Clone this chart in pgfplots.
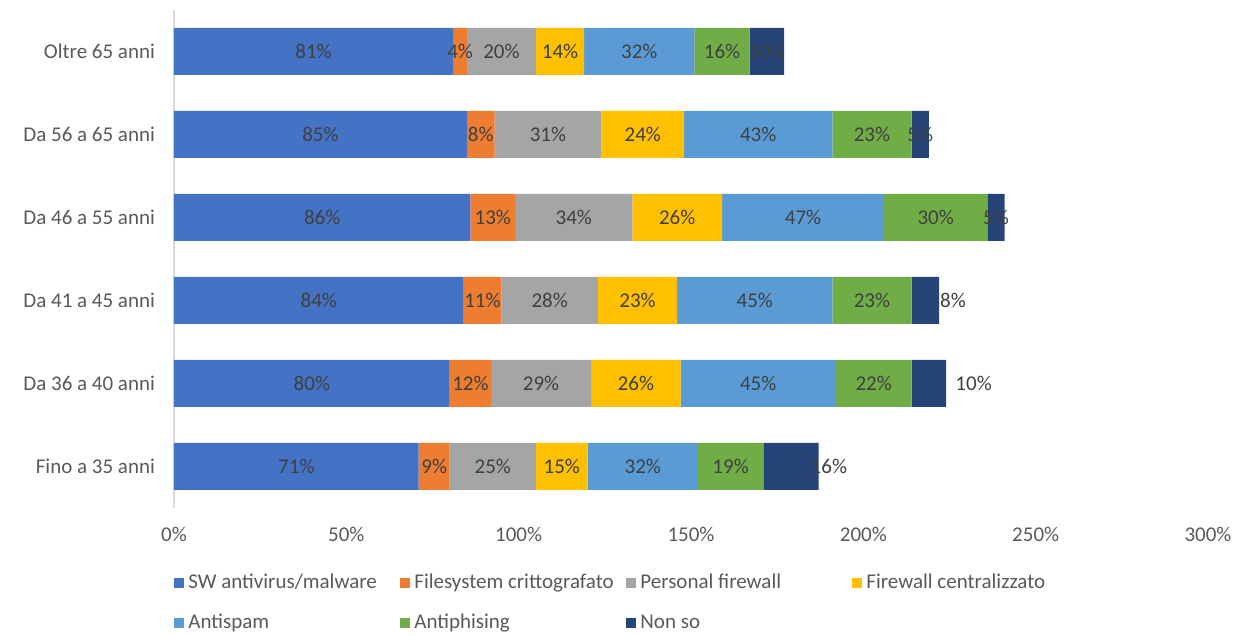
\documentclass[border=0pt]{standalone}
\usepackage{pgfplots}
\pgfplotsset{compat=1.18}
\usepackage{pgfplotstable}
\usepackage{fontspec}
\setmainfont{Carlito}
\definecolor{c1}{HTML}{4472C4}
\definecolor{c2}{HTML}{ED7D31}
\definecolor{c3}{HTML}{A5A5A5}
\definecolor{c4}{HTML}{FFC000}
\definecolor{c5}{HTML}{5B9BD5}
\definecolor{c6}{HTML}{70AD47}
\definecolor{c7}{HTML}{264478}
\definecolor{labc}{HTML}{404040}
\definecolor{tickc}{HTML}{595959}
\pgfplotsset{/pgf/number format/assume math mode=true}
% bar values (percent), rows bottom to top
\pgfplotstableread{
y a b c d e f g
0 71 9 25 15 32 19 16
1 80 12 29 26 45 22 10
2 84 11 28 23 45 23 8
3 86 13 34 26 47 30 5
4 85 8 31 24 43 23 5
5 81 4 20 14 32 16 10
}\data
% data label positions (segment centres) and texts
\pgfplotstableread{
x y lab
35.5 0 71
75.5 0 9
92.5 0 25
112.5 0 15
136 0 32
161.5 0 19
190 0 16
40 1 80
86 1 12
106.5 1 29
134 1 26
169.5 1 45
203 1 22
232 1 10
42 2 84
89.5 2 11
109 2 28
134.5 2 23
168.5 2 45
202.5 2 23
226 2 8
43 3 86
92.5 3 13
116 3 34
146 3 26
182.5 3 47
221 3 30
238.5 3 5
42.5 4 85
89 4 8
108.5 4 31
136 4 24
169.5 4 43
202.5 4 23
216.5 4 5
40.5 5 81
83 5 4
95 5 20
112 5 14
135 5 32
159 5 16
172 5 10
}\labels
\begin{document}
\begin{tikzpicture}
\begin{axis}[
  xbar stacked,
  scale only axis,
  width=517pt, height=249pt,
  bar width=23.5pt,
  xmin=0, xmax=300,
  ymin=-0.5, ymax=5.5,
  xtick={0,50,...,300},
  xticklabel={\pgfmathprintnumber{\tick}\%},
  ytick={0,...,5},
  yticklabels={Fino a 35 anni,Da 36 a 40 anni,Da 41 a 45 anni,Da 46 a 55 anni,Da 56 a 65 anni,Oltre 65 anni},
  axis lines*=left,
  x axis line style={draw=none},
  y axis line style={draw=black!15, line width=0.75pt},
  major tick length=0pt,
  tick label style={font=\fontsize{10.5}{12}\selectfont, text=tickc},
  xticklabel style={yshift=-6pt},
  yticklabel style={xshift=-6pt},
  clip=false,
  legend columns=4,
  legend style={at={(rel axis cs:0,0)}, anchor=north west, yshift=-31pt,
    draw=none, fill=none, inner sep=0pt, row sep=7pt,
    font=\fontsize{10.5}{12}\selectfont, text=tickc,
    /tikz/every even column/.append style={column sep=3pt}},
  legend image code/.code={\fill[#1] (0pt,-2.5pt) rectangle (5pt,2.5pt);},
]
\addplot[fill=c1, draw=none] table[x=a, y=y] \data;
\addplot[fill=c2, draw=none] table[x=b, y=y] \data;
\addplot[fill=c3, draw=none] table[x=c, y=y] \data;
\addplot[fill=c4, draw=none] table[x=d, y=y] \data;
\addplot[fill=c5, draw=none] table[x=e, y=y] \data;
\addplot[fill=c6, draw=none] table[x=f, y=y] \data;
\addplot[fill=c7, draw=none] table[x=g, y=y] \data;
\legend{\makebox[101pt][l]{SW antivirus/malware},\makebox[101pt][l]{Filesystem crittografato},\makebox[101pt][l]{Personal firewall},\makebox[101pt][l]{Firewall centralizzato},\makebox[101pt][l]{Antispam},\makebox[101pt][l]{Antiphising},\makebox[101pt][l]{Non so}}
\coordinate (tl) at (rel axis cs:0,1);
\coordinate (br) at (rel axis cs:1,0);
\end{axis}
\begin{axis}[
  scale only axis,
  width=517pt, height=249pt,
  xmin=0, xmax=300,
  ymin=-0.5, ymax=5.5,
  hide axis,
  clip=false,
]
\addplot[only marks, mark size=0pt,
  nodes near coords={\pgfplotspointmeta\%},
  point meta=explicit symbolic,
  every node near coord/.append style={anchor=center,
    font=\fontsize{10.5}{12}\selectfont, text=labc},
  ] table[x=x, y=y, meta=lab] \labels;
\end{axis}
\pgfresetboundingbox
\path ([shift={(-87pt,5pt)}]tl) rectangle ([shift={(16pt,-64pt)}]br);
\end{tikzpicture}
\end{document}
